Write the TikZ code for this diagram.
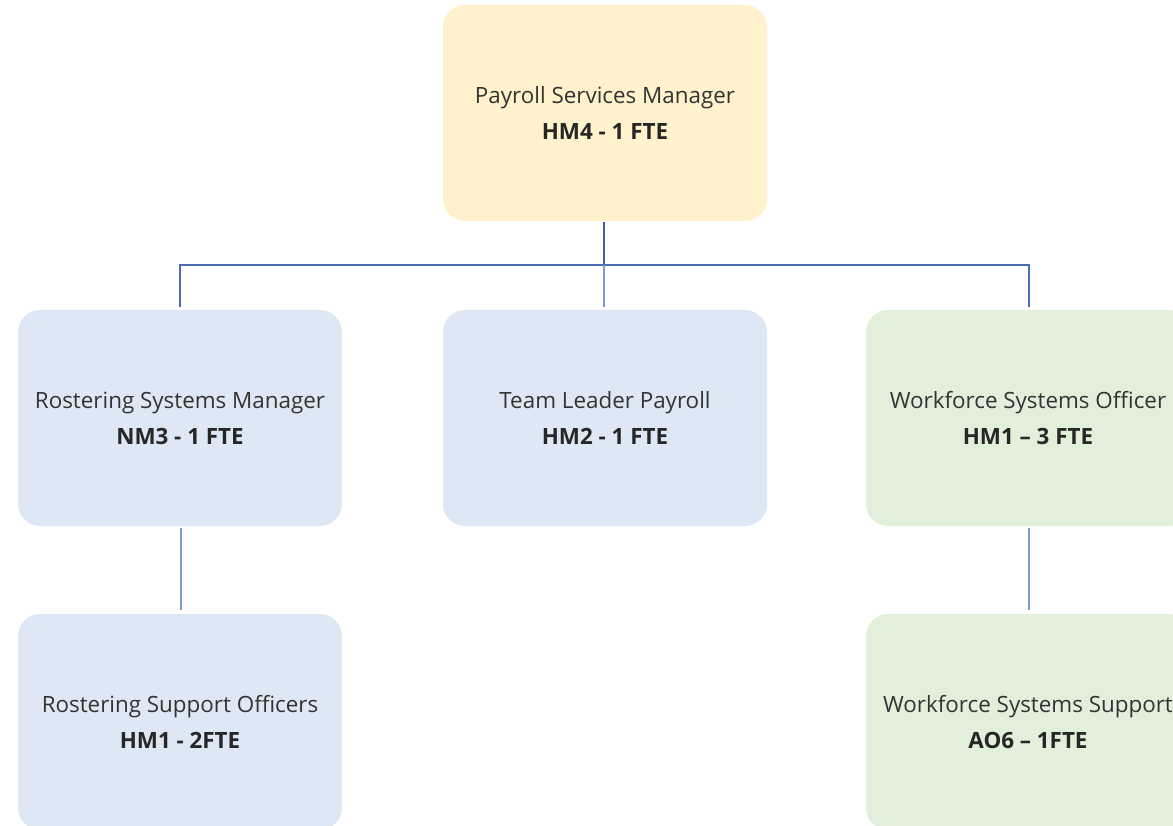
\documentclass[tikz,border=0pt]{standalone}
\usepackage{fontspec}
\setmainfont{Open Sans}
\definecolor{topfill}{HTML}{FFF2CC}
\definecolor{bluefill}{HTML}{DEE8F4}
\definecolor{greenfill}{HTML}{E2EFDA}
\definecolor{linedark}{HTML}{3D5EA8}
\definecolor{linemid}{HTML}{4A6DB5}
\definecolor{linelight}{HTML}{7F9AD2}
\definecolor{txt}{HTML}{333333}
\tikzset{
  box/.style={rounded corners=22pt, minimum width=324pt, minimum height=216pt,
    inner sep=0pt, align=center, text=txt, font=\fontsize{22.4}{36}\selectfont},
  tbox/.style={box, fill=topfill},
  bbox/.style={box, fill=bluefill},
  gbox/.style={box, fill=greenfill},
  con/.style={line width=2pt},
}
\newcommand{\ttl}[2]{\raisebox{7pt}{\parbox{200pt}{\centering\makebox[0pt]{#1}\\[0pt]\makebox[0pt]{\bfseries\color{black!85}#2}}}}
\begin{document}
\begin{tikzpicture}[x=1pt,y=-1pt]
\useasboundingbox (0,0) rectangle (1173,826);
\clip (0,0) rectangle (1173,826);
\node[tbox] (psm) at (605,113) {\ttl{Payroll Services Manager}{HM4 - 1 FTE}};
\node[bbox] (rsm) at (180,418) {\ttl{Rostering Systems Manager}{NM3 - 1 FTE}};
\node[bbox] (tlp) at (605,418) {\ttl{Team Leader Payroll}{HM2 - 1 FTE}};
\node[gbox] (wso) at (1028,418) {\ttl{Workforce Systems Officer}{HM1 -- 3 FTE}};
\node[bbox] (rso) at (180,722) {\ttl{Rostering Support Officers}{HM1 - 2FTE}};
\node[gbox] (wss) at (1028,722) {\ttl{Workforce Systems Support}{AO6 -- 1FTE}};
\coordinate (j) at (604,265);
\coordinate (jl) at (180,265);
\coordinate (jr) at (1029,265);
\draw[con, linedark, line width=2.6pt] ([xshift=-1pt,yshift=-1pt]psm.south) -- (j);
\draw[con, linemid, line cap=rect] (jl) -- (jr);
\draw[con, linelight] (j) -- ([xshift=-1pt,yshift=3pt]tlp.north);
\draw[con, linemid] (jl) -- ([yshift=3pt]rsm.north);
\draw[con, linemid] (jr) -- ([xshift=1pt,yshift=3pt]wso.north);
\draw[con, linelight] ([xshift=1pt,yshift=-2pt]rsm.south) -- ([xshift=1pt,yshift=4pt]rso.north);
\draw[con, linelight] ([xshift=1pt,yshift=-2pt]wso.south) -- ([xshift=1pt,yshift=4pt]wss.north);
\end{tikzpicture}
\end{document}
